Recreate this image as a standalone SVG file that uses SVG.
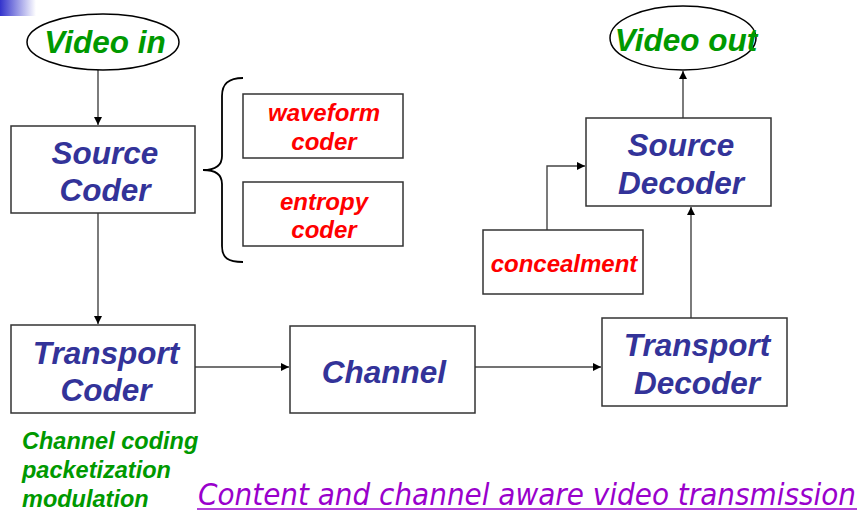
<svg xmlns="http://www.w3.org/2000/svg" width="859" height="515" viewBox="0 0 859 515">
<style>
.box{fill:#fff;stroke:#333;stroke-width:1.5}
.ell{fill:#fff;stroke:#000;stroke-width:1.5}
.ln{fill:none;stroke:#444;stroke-width:1.4}
.b{font-family:"Liberation Sans",Arial,sans-serif;font-weight:bold;font-style:italic;fill:#333399;font-size:31.5px;text-anchor:middle}
.g{font-family:"Liberation Sans",Arial,sans-serif;font-weight:bold;font-style:italic;fill:#009900;font-size:31.5px;text-anchor:middle}
.r{font-family:"Liberation Sans",Arial,sans-serif;font-weight:bold;font-style:italic;fill:#ff0000;font-size:24px;text-anchor:middle}
.gs{font-family:"Liberation Sans",Arial,sans-serif;font-weight:bold;font-style:italic;fill:#009900;font-size:23.5px}
.p{font-family:"DejaVu Sans Condensed","DejaVu Sans",sans-serif;font-style:italic;fill:#9900cc;font-size:31px}
</style>
<defs>
<linearGradient id="gb" x1="0" y1="0" x2="1" y2="0">
<stop offset="0" stop-color="#3333cc"/>
<stop offset="1" stop-color="#ffffff"/>
</linearGradient>
<marker id="ah" viewBox="0 0 10 10" refX="10" refY="5" markerWidth="8" markerHeight="8" markerUnits="userSpaceOnUse" orient="auto">
<path d="M0,0 L10,5 L0,10 z" fill="#000"/>
</marker>
</defs>
<rect x="0" y="0" width="36" height="16" fill="url(#gb)"/>

<g id="connectors">
<line class="ln" x1="98" y1="70" x2="98" y2="125" marker-end="url(#ah)"/>
<line class="ln" x1="98" y1="213" x2="98" y2="324" marker-end="url(#ah)"/>
<line class="ln" x1="195" y1="367" x2="289" y2="367" marker-end="url(#ah)"/>
<line class="ln" x1="475" y1="367" x2="601" y2="367" marker-end="url(#ah)"/>
<line class="ln" x1="691" y1="318" x2="691" y2="207" marker-end="url(#ah)"/>
<line class="ln" x1="683" y1="118" x2="683" y2="71" marker-end="url(#ah)"/>
<polyline class="ln" points="547,230 547,166 585,166" marker-end="url(#ah)"/>
</g>

<g id="video-in">
<ellipse class="ell" cx="103" cy="42" rx="76" ry="28"/>
<text class="g" x="105" y="53">Video in</text>
</g>

<g id="source-coder">
<rect class="box" x="11" y="126" width="184" height="87"/>
<text class="b" x="105" y="164">Source</text>
<text class="b" x="105" y="201">Coder</text>
</g>

<g id="brace">
<path d="M243,78 C228,78 222,84 222,96 L222,156 C222,166 214,170 203,170 C214,170 222,174 222,184 L222,246 C222,258 228,262 243,262" fill="none" stroke="#000" stroke-width="1.8"/>
</g>

<g id="waveform-coder">
<rect class="box" x="243" y="94" width="160" height="64"/>
<text class="r" x="324" y="121">waveform</text>
<text class="r" x="324" y="150">coder</text>
</g>

<g id="entropy-coder">
<rect class="box" x="243" y="182" width="160" height="64"/>
<text class="r" x="324" y="210">entropy</text>
<text class="r" x="324" y="238">coder</text>
</g>

<g id="transport-coder">
<rect class="box" x="11" y="325" width="184" height="88"/>
<text class="b" x="106" y="364">Transport</text>
<text class="b" x="106" y="401">Coder</text>
</g>

<g id="channel">
<rect class="box" x="290" y="326" width="185" height="87"/>
<text class="b" x="384" y="383">Channel</text>
</g>

<g id="transport-decoder">
<rect class="box" x="602" y="318" width="185" height="88"/>
<text class="b" x="697" y="356">Transport</text>
<text class="b" x="697" y="394">Decoder</text>
</g>

<g id="source-decoder">
<rect class="box" x="586" y="118" width="185" height="88"/>
<text class="b" x="681" y="156">Source</text>
<text class="b" x="681" y="194">Decoder</text>
</g>

<g id="concealment">
<rect class="box" x="483" y="230" width="160" height="64"/>
<text class="r" x="564" y="272">concealment</text>
</g>

<g id="video-out">
<ellipse class="ell" cx="683" cy="38" rx="73" ry="32"/>
<text class="g" x="686" y="51">Video out</text>
</g>

<g id="notes">
<text class="gs" x="22" y="449">Channel coding</text>
<text class="gs" x="22" y="478">packetization</text>
<text class="gs" x="22" y="507">modulation</text>
</g>

<g id="caption">
<text class="p" x="198" y="505" textLength="658" lengthAdjust="spacingAndGlyphs">Content and channel aware video transmission</text>
<line x1="197" y1="509" x2="857" y2="509" stroke="#9900cc" stroke-width="1.5"/>
</g>
</svg>
